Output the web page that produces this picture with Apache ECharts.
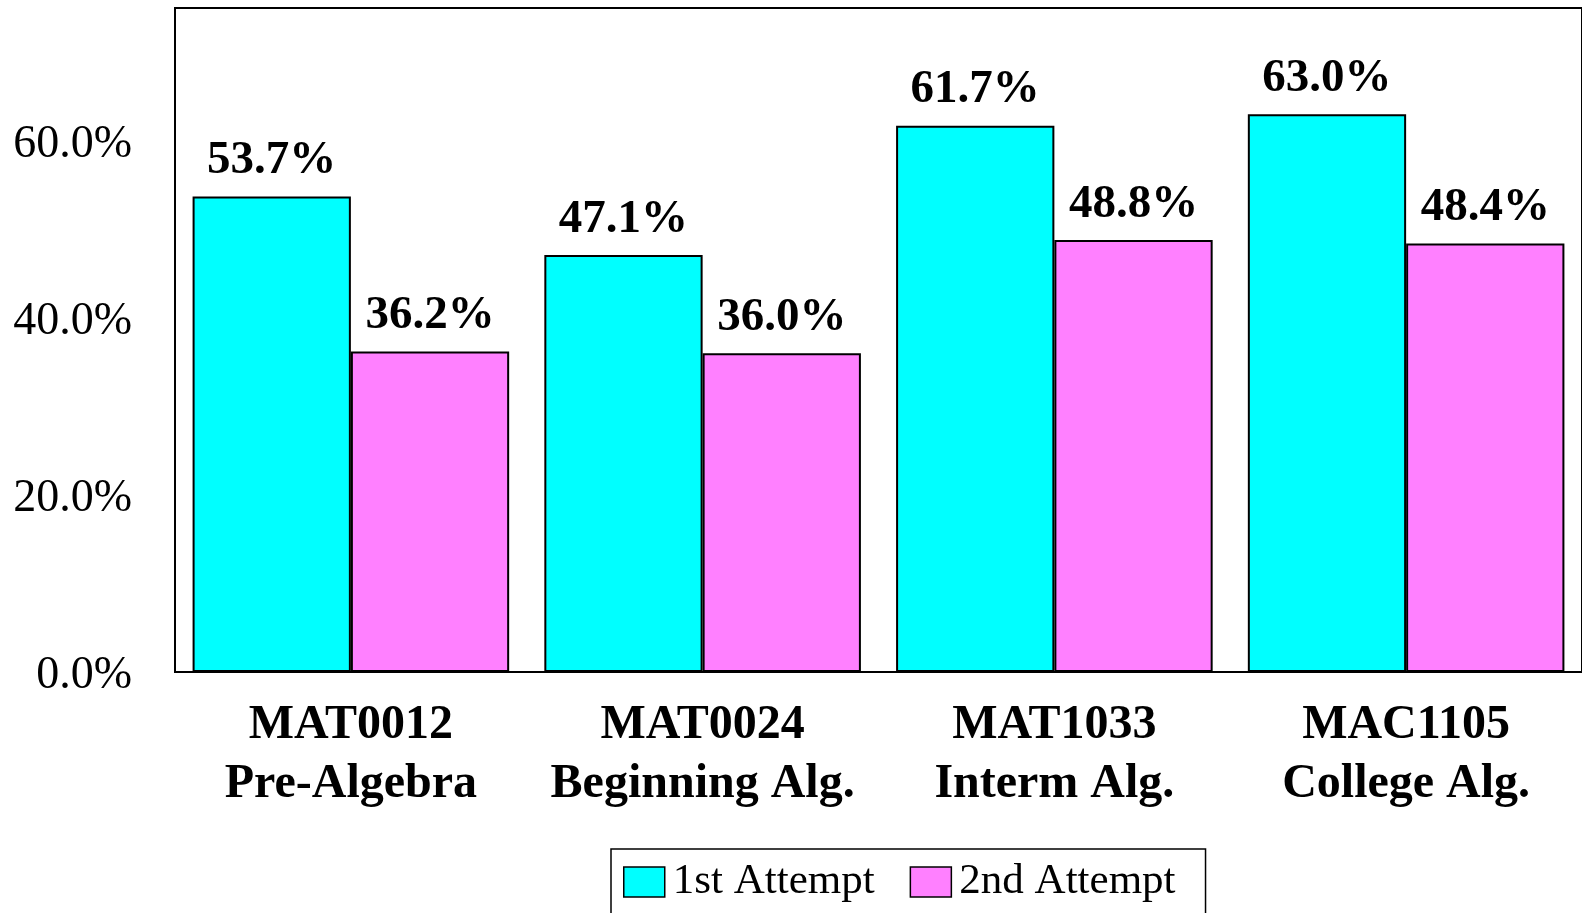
<!DOCTYPE html>
<html>
<head>
<meta charset="utf-8">
<title>Course success by attempt</title>
<script src="https://cdn.jsdelivr.net/npm/echarts@6/dist/echarts.min.js"></script>
<style>
  html, body { margin: 0; padding: 0; background: #ffffff; }
  #chart { width: 1582px; height: 913px; }
</style>
</head>
<body>
<div id="chart"></div>
<script>
// Course names (two lines: code, title)
const courses = [
  'MAT0012\nPre-Algebra',
  'MAT0024\nBeginning Alg.',
  'MAT1033\nInterm Alg.',
  'MAC1105\nCollege Alg.'
];
// Success rates in percent
const firstAttempt = [53.7, 47.1, 61.7, 63.0];
const secondAttempt = [36.2, 36.0, 48.8, 48.4];
const seriesNames = ['1st Attempt', '2nd Attempt'];

const serif = '"Liberation Serif", "Times New Roman", serif';
const pct = v => Number(v).toFixed(1) + '%';

const chart = echarts.init(document.getElementById('chart'), null, { renderer: 'canvas' });

const barLabel = {
  show: true,
  position: 'top',
  distance: 12,
  fontFamily: serif,
  fontWeight: 'bold',
  fontSize: 47,
  color: '#000',
  formatter: p => pct(p.value)
};

chart.setOption({
  animation: false,
  backgroundColor: '#ffffff',
  grid: {
    left: 175,
    top: 8,
    width: 1414,
    height: 664,
    show: true,
    borderColor: '#000',
    borderWidth: 2,
    containLabel: false
  },
  legend: {
    left: 611,
    top: 849,
    data: seriesNames,
    orient: 'horizontal',
    itemWidth: 41,
    itemHeight: 30,
    itemGap: 35,
    padding: [10, 30, 10, 12],
    borderColor: '#000',
    borderWidth: 1.5,
    backgroundColor: '#fff',
    icon: 'rect',
    itemStyle: { borderColor: '#000', borderWidth: 1.5 },
    textStyle: {
      fontFamily: serif,
      fontSize: 43,
      color: '#000',
      lineHeight: 46,
      padding: [0, 0, 0, 3]
    }
  },
  xAxis: {
    type: 'category',
    data: courses,
    axisLine: { show: true, lineStyle: { color: '#000', width: 2 } },
    axisTick: { show: false },
    axisLabel: {
      interval: 0,
      margin: 24,
      fontFamily: serif,
      fontWeight: 'bold',
      fontSize: 48,
      lineHeight: 59,
      color: '#000'
    },
    splitLine: { show: false }
  },
  yAxis: {
    type: 'value',
    min: 0,
    max: 75,
    interval: 20,
    axisLine: { show: true, lineStyle: { color: '#000', width: 2 } },
    axisTick: { show: false },
    splitLine: { show: false },
    axisLabel: {
      showMaxLabel: false,
      margin: 43,
      verticalAlign: 'top',
      lineHeight: 8,
      fontFamily: serif,
      fontSize: 46,
      color: '#000',
      formatter: v => pct(v)
    }
  },
  series: [
    {
      name: seriesNames[0],
      type: 'bar',
      data: firstAttempt,
      barGap: '0%',
      barCategoryGap: '10%',
      itemStyle: { color: '#00FFFF', borderColor: '#000', borderWidth: 2 },
      label: barLabel
    },
    {
      name: seriesNames[1],
      type: 'bar',
      data: secondAttempt,
      barGap: '0%',
      barCategoryGap: '10%',
      itemStyle: { color: '#FF80FF', borderColor: '#000', borderWidth: 2 },
      label: barLabel
    }
  ]
});
</script>
</body>
</html>
